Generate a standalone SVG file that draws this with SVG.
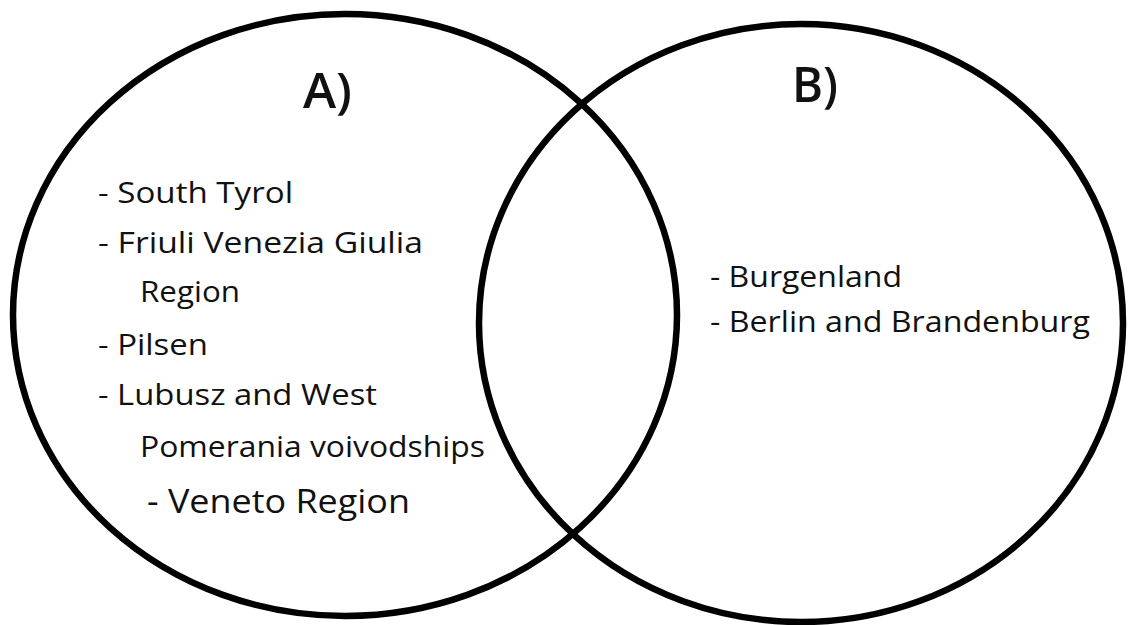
<svg xmlns="http://www.w3.org/2000/svg" width="1130" height="625" viewBox="0 0 1130 625">
<style>
.ring{fill:none;stroke:#000;stroke-width:6.5}
.t{font-family:"Open Sans","Noto Sans","DejaVu Sans",sans-serif;font-size:30px;font-weight:500;fill:#111}
.h{font-family:"Open Sans","Noto Sans","DejaVu Sans",sans-serif;font-size:49px;font-weight:600;fill:#111}
</style>
<rect width="1130" height="625" fill="#fff"/>
<g id="setA">
<ellipse class="ring" cx="345" cy="315" rx="332" ry="301"/>
<text class="h" x="303" y="108" textLength="49" lengthAdjust="spacingAndGlyphs">A)</text>
<text class="t" x="98" y="203" textLength="195" lengthAdjust="spacingAndGlyphs">- South Tyrol</text>
<text class="t" x="98" y="253" textLength="325" lengthAdjust="spacingAndGlyphs">- Friuli Venezia Giulia</text>
<text class="t" x="140" y="302" textLength="100" lengthAdjust="spacingAndGlyphs">Region</text>
<text class="t" x="98" y="355" textLength="110" lengthAdjust="spacingAndGlyphs">- Pilsen</text>
<text class="t" x="98" y="405" textLength="279" lengthAdjust="spacingAndGlyphs">- Lubusz and West</text>
<text class="t" x="140" y="457" textLength="345" lengthAdjust="spacingAndGlyphs">Pomerania voivodships</text>
<text class="t" x="147" y="513" style="font-size:32px" textLength="263" lengthAdjust="spacingAndGlyphs">- Veneto Region</text>
</g>
<g id="setB">
<ellipse class="ring" cx="801" cy="323" rx="322" ry="299"/>
<text class="h" x="792" y="102" textLength="46" lengthAdjust="spacingAndGlyphs">B)</text>
<text class="t" x="710" y="287" textLength="192" lengthAdjust="spacingAndGlyphs">- Burgenland</text>
<text class="t" x="710" y="332" textLength="380" lengthAdjust="spacingAndGlyphs">- Berlin and Brandenburg</text>
</g>
</svg>
